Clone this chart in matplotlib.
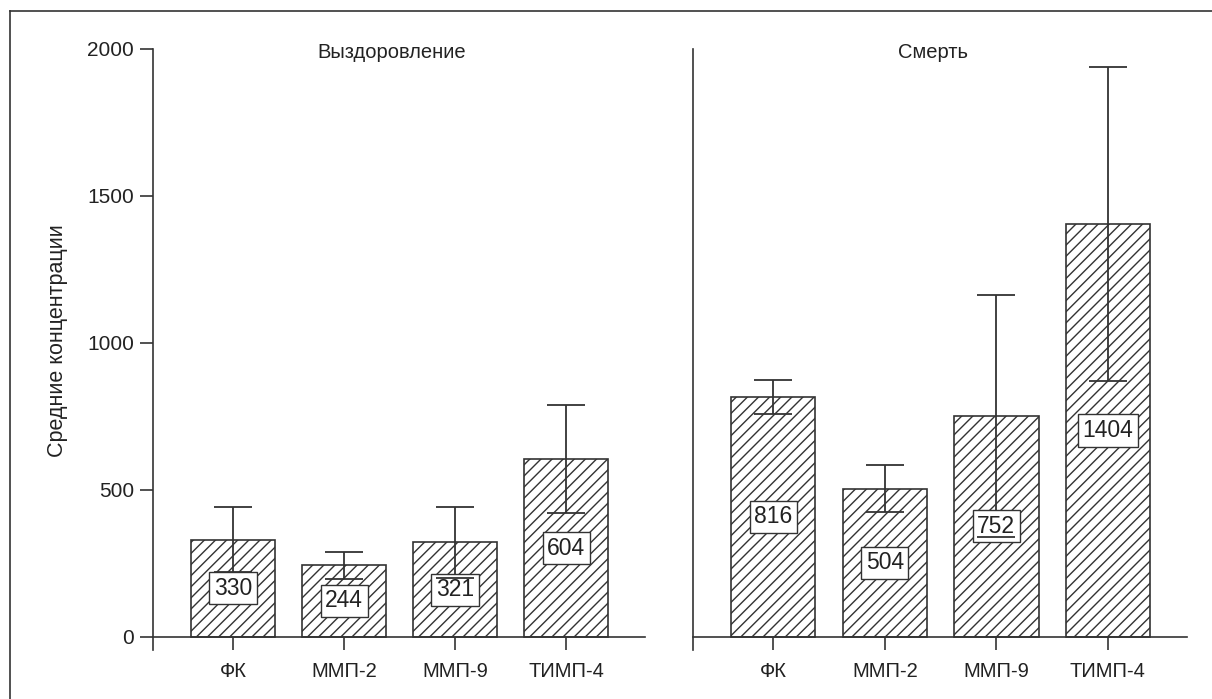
import matplotlib.pyplot as plt
from matplotlib.lines import Line2D

plt.rcParams['font.family'] = ['Liberation Sans', 'DejaVu Sans']
plt.rcParams['hatch.linewidth'] = 1.0
plt.rcParams['hatch.color'] = '#333333'

categories = ['ФК', 'ММП-2', 'ММП-9', 'ТИМП-4']
recovery_mean = [330, 244, 321, 604]
recovery_err = [111, 46, 121, 183]
death_mean = [816, 504, 752, 1404]
death_err = [58, 80, 412, 534]
panel_titles = ['Выздоровление', 'Смерть']
y_ticks = [0, 500, 1000, 1500, 2000]

ink = '#333333'
txt = '#222222'
W, H = 1212, 699
fig = plt.figure(figsize=(W / 100, H / 100), dpi=100)

ax_left = fig.add_axes([153 / W, 1 - 650 / H, 492 / W, 601 / H])
ax_right = fig.add_axes([693 / W, 1 - 650 / H, 494 / W, 601 / H])

x = list(range(len(categories)))

for ax, means, errs, title in [(ax_left, recovery_mean, recovery_err, panel_titles[0]),
                               (ax_right, death_mean, death_err, panel_titles[1])]:
    # spine position first: moving it resets the tick objects
    for side in ['top', 'right']:
        ax.spines[side].set_visible(False)
    ax.spines['bottom'].set_position(('data', 0))
    for side in ['left', 'bottom']:
        ax.spines[side].set_color(ink)
        ax.spines[side].set_linewidth(1.2)

    ax.bar(x, means, width=0.757, color='white', edgecolor=ink,
           linewidth=1.2, hatch='///', zorder=2)
    eb = ax.errorbar(x, means, yerr=errs, fmt='none', ecolor=ink,
                     elinewidth=1.3, capsize=13.7, capthick=1.3)
    for cap in eb[1]:
        cap.set_zorder(5)
    for col in eb[2]:
        col.set_zorder(3)
    for xi, m in zip(x, means):
        ax.text(xi, m / 2, str(m), ha='center', va='center', fontsize=16.5,
                color=txt, zorder=4,
                bbox=dict(boxstyle='square,pad=0.2', fc='white',
                          ec=ink, lw=1.0))

    ax.set_xlim(-0.72, 3.71)
    ax.set_ylim(-45, 2000)
    ax.set_xticks(x)
    ax.set_xticklabels(categories)
    ax.tick_params(axis='x', direction='out', length=9.4, width=1.2,
                   color=ink, pad=8.5, labelsize=14.5, labelcolor=txt)
    ax.text(0.486, 0.995, title, transform=ax.transAxes, ha='center',
            va='center', fontsize=14.5, color=txt)

ax_left.set_yticks(y_ticks)
ax_left.set_yticklabels([str(v) for v in y_ticks])
ax_left.tick_params(axis='y', direction='out', length=9.4, width=1.2,
                    color=ink, pad=4.3, labelsize=15, labelcolor=txt)
ax_left.set_ylabel('Средние концентрации', fontsize=15.5, color=txt)
ax_left.yaxis.set_label_coords(-0.172, 0.514)

ax_right.set_yticks([])

# frame lines along the top and left edges
fig.add_artist(Line2D([9.5 / W, 1], [1 - 10.5 / H, 1 - 10.5 / H],
                      transform=fig.transFigure, color=ink, lw=1.2))
fig.add_artist(Line2D([9.5 / W, 9.5 / W], [0, 1 - 10.5 / H],
                      transform=fig.transFigure, color=ink, lw=1.2))

fig.savefig('out.png', dpi=100, facecolor='white')
